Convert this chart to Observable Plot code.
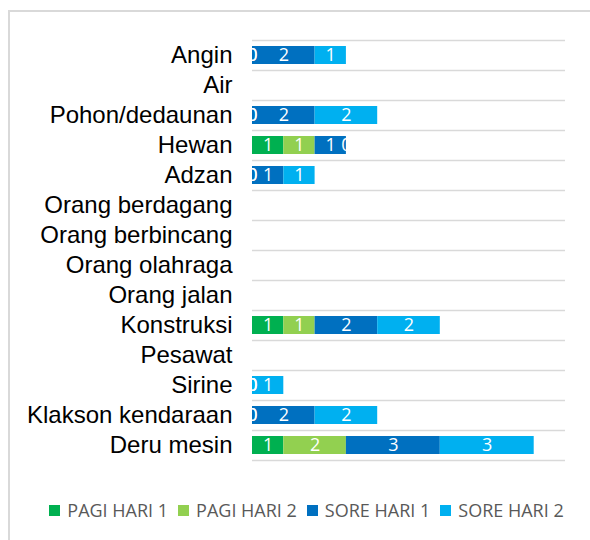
<!DOCTYPE html>
<html>
<head>
<meta charset="utf-8">
<script src="https://cdn.jsdelivr.net/npm/d3@7"></script>
<script src="https://cdn.jsdelivr.net/npm/@observablehq/plot@0.6"></script>
<style>
  html, body { margin: 0; padding: 0; background: #fff; width: 590px; height: 540px; overflow: hidden; }
  #frame { position: absolute; left: 8px; top: 10px; width: 640px; height: 640px; border: 2px solid #d9d9d9; box-sizing: border-box; }
  #chart { position: absolute; left: 0; top: 0; }
  #legend { position: absolute; left: 0; top: 498px; width: 613px; display: flex; justify-content: center; align-items: center;
            font-family: "Open Sans", sans-serif; font-size: 18px; color: #595959; white-space: nowrap; }
  .item { display: flex; align-items: center; margin: 0 5px; }
  .sw { width: 11px; height: 11px; margin-right: 7px; }
</style>
</head>
<body>
<div id="frame"></div>
<div id="chart"></div>
<div id="legend"></div>
<script>
const categories = ["Angin","Air","Pohon/dedaunan","Hewan","Adzan","Orang berdagang","Orang berbincang","Orang olahraga","Orang jalan","Konstruksi","Pesawat","Sirine","Klakson kendaraan","Deru mesin"];
const series = ["PAGI HARI 1","PAGI HARI 2","SORE HARI 1","SORE HARI 2"];
const colors = ["#00b050","#92d050","#0070c0","#00b0f0"];
const pagi1 = [0,0,0,1,0,null,null,null,null,1,0,0,0,1];
const pagi2 = [0,0,0,1,0,null,null,null,null,1,0,0,0,2];
const sore1 = [2,0,2,1,1,null,null,null,null,2,0,0,2,3];
const sore2 = [1,0,2,0,1,null,null,null,null,2,0,1,2,3];
const xTicks = [0,10];

const seriesValues = [pagi1, pagi2, sore1, sore2];
const data = [];
categories.forEach((c, i) => {
  series.forEach((s, j) => {
    const v = seriesValues[j][i];
    if (v !== null) data.push({cat: c, series: s, value: v});
  });
});

const chart = Plot.plot({
  width: 590,
  height: 480,
  marginLeft: 252,
  marginRight: 25,
  marginTop: 40,
  marginBottom: 20,
  style: {fontFamily: "'Liberation Sans', Arial, sans-serif", fontSize: "24px", color: "#000", background: "transparent"},
  x: {domain: xTicks, axis: null},
  y: {domain: categories, paddingInner: 0.4, paddingOuter: 0.2, label: null},
  color: {domain: series, range: colors},
  marks: [
    Plot.ruleY(categories, {y: d => d, dy: -15, x1: xTicks[0], x2: xTicks[1], stroke: "#d9d9d9", strokeWidth: 1.5}),
    Plot.ruleY(categories.slice(-1), {y: d => d, dy: 15, x1: xTicks[0], x2: xTicks[1], stroke: "#d9d9d9", strokeWidth: 1.5}),
    Plot.ruleX([0], {y1: categories[0], y2: categories[categories.length - 1], stroke: "#d9d9d9", strokeWidth: 2, insetTop: -15, insetBottom: -15}),
    Plot.barX(data, Plot.stackX({x: "value", y: "cat", fill: "series", z: "series", order: series})),
    Plot.text(data, Plot.stackX({x: "value", y: "cat", z: "series", order: series, text: d => String(d.value),
      fill: "white", fontFamily: "'Open Sans', sans-serif", fontSize: 18})),
    Plot.axisY({tickSize: 0, tickPadding: 20, label: null, fontSize: 24})
  ]
});
document.getElementById("chart").appendChild(chart);

const legend = document.getElementById("legend");
series.forEach((s, i) => {
  const item = document.createElement("div");
  item.className = "item";
  const sw = document.createElement("span");
  sw.className = "sw";
  sw.style.background = colors[i];
  const t = document.createElement("span");
  t.textContent = s;
  item.appendChild(sw);
  item.appendChild(t);
  legend.appendChild(item);
});
</script>
</body>
</html>
